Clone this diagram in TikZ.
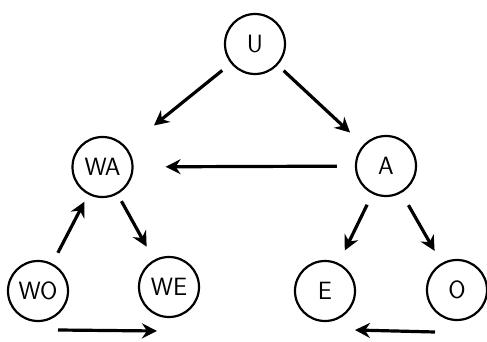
\documentclass[tikz,border=0pt]{standalone}
\usetikzlibrary{arrows.meta}
\begin{document}
\begin{tikzpicture}[x=1pt,y=-1pt,
  vnode/.style={draw, circle, line width=2.2pt, minimum size=60pt, inner sep=0pt,
    font=\sffamily\fontsize{25}{25}\selectfont},
  arr/.style={line width=3.2pt, -{Stealth[length=15pt,width=15pt,inset=5pt]}}]
\useasboundingbox[fill=white] (0,0) rectangle (487,342);
\node[vnode] (U) at (255,44) {U};
\node[vnode] (WA) at (102.5,167) {WA};
\node[vnode] (A) at (386,166) {A};
\node[vnode] (WO) at (38,291) {WO};
\node[vnode] (WE) at (169,287) {WE};
\node[vnode] (E) at (325,291) {E};
\node[vnode] (O) at (457,290) {O};
\draw[arr, shorten <=11pt, shorten >=35pt] (U) -- (WA);
\draw[arr, shorten <=8pt, shorten >=18pt] (U) -- (A);
\draw[arr, shorten <=18pt, shorten >=32pt] (A) -- (WA);
\draw[arr, shorten <=12pt, shorten >=8pt] (WO) -- (WA);
\draw[arr, shorten <=8pt, shorten >=15pt] (WA) -- (WE);
\draw[arr, shorten <=12pt, shorten >=14pt] (A) -- (E);
\draw[arr, shorten <=14pt, shorten >=14pt] (A) -- (O);
\coordinate (b1) at (58,330);
\coordinate (b2) at (157,331);
\coordinate (b3) at (435,332);
\coordinate (b4) at (355,330);
\draw[arr] (b1) -- (b2);
\draw[arr] (b3) -- (b4);
\end{tikzpicture}
\end{document}
